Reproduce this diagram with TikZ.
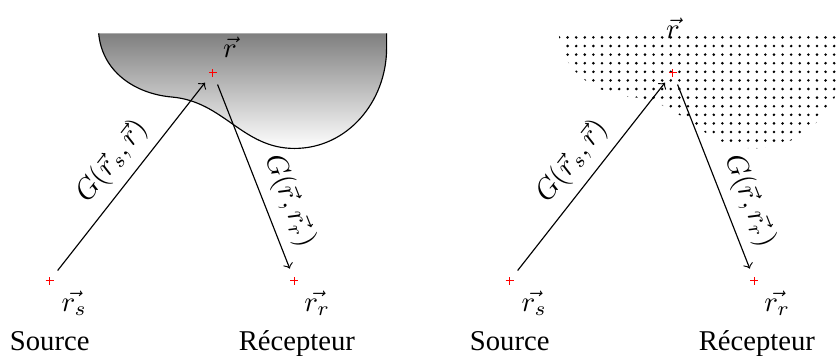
\documentclass[tikz,border=0pt]{standalone}
\usepackage{fontspec}
\setmainfont{Liberation Serif}
\usetikzlibrary{positioning,patterns}
\newcommand{\obstacle}{(0.6,3.03) to[out=-85,in=175] (1.5,2.25) to[out=-5,in=180] (3,1.62) to[out=0,in=-90] (4.13,2.85) -- (4.13,3.03)}

\begin{document}
\begin{tikzpicture}[>=to, crossnode/.style={circle, minimum size=0.3cm, inner sep=0pt,
          path picture={\draw[red, line width=0.35pt] (path picture bounding box.center) +(-1.4pt,0) -- +(1.4pt,0)
            (path picture bounding box.center) +(0,-1.4pt) -- +(0,1.4pt);}}]
        \clip (-0.61,-0.92) rectangle (9.64,3.44);

        % Obstacle (gradient)
        \shade[top color=gray, bottom color=white] \obstacle -- cycle;
        \draw \obstacle;

        % Source, point diffractant, recepteur
        \node[crossnode] (src) at (0,0) {};
        \node[crossnode] (pt) at (2,2.55) {};
        \node[crossnode] (rec) at (3,0) {};

        \node (srclbl) at (0.3,-0.28) {$\vec{r_s}$};
        \node (ptlbl) at (2.21,2.86) {$\vec{r}$};
        \node (reclbl) at (3.28,-0.28) {$\vec{r_r}$};
        \node[anchor=base] (srctxt) at (0,-0.86) {Source};
        \node[anchor=base] (rectxt) at (3.03,-0.86) {Récepteur};

        % Fonctions de Green
        \draw[->] (src) -- node[midway, sloped, above] {$G(\vec{r}_s,\vec{r})$} (pt);
        \draw[->] (pt) -- node[pos=0.68, sloped, above] {$G(\vec{r},\vec{r_r})$} (rec);

        \begin{scope}[xshift=5.64cm]
        % Obstacle (points)
        \fill[pattern=dots] \obstacle -- cycle;

        \node[crossnode] (src2) at (0,0) {};
        \node[crossnode] (pt2) at (2,2.55) {};
        \node[crossnode] (rec2) at (3,0) {};

        \node (srclbl2) at (0.3,-0.28) {$\vec{r_s}$};
        \node (ptlbl2) [above=0.14 of pt2] {$\vec{r}$};
        \node (reclbl2) at (3.28,-0.28) {$\vec{r_r}$};
        \node[anchor=base] (srctxt2) at (0,-0.86) {Source};
        \node[anchor=base] (rectxt2) at (3.03,-0.86) {Récepteur};

        \draw[->] (src2) -- node[midway, sloped, above] {$G(\vec{r}_s,\vec{r})$} (pt2);
        \draw[->] (pt2) -- node[pos=0.68, sloped, above] {$G(\vec{r},\vec{r_r})$} (rec2);
        \end{scope}
      \end{tikzpicture}
\end{document}
